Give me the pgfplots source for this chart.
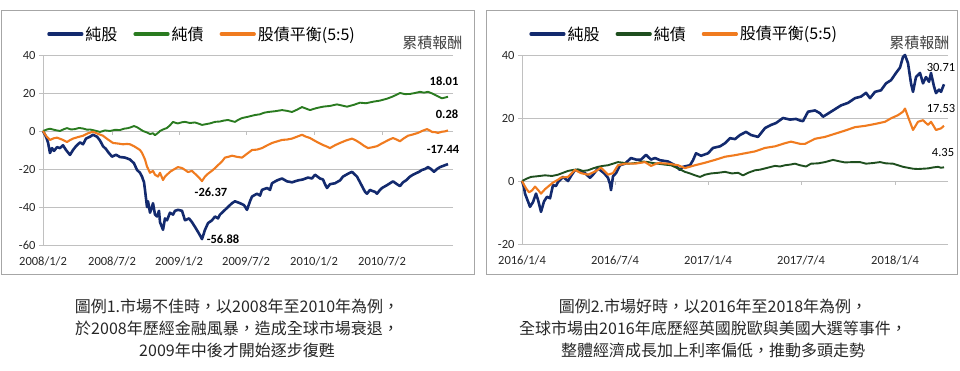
\documentclass[border=0pt]{standalone}
\usepackage{fontspec}
\setmainfont{Carlito}
\newfontfamily\cjk{Noto Sans CJK TC}
\usepackage{pgfplots}
\pgfplotsset{compat=1.18}
\definecolor{stk}{HTML}{132A6E}
\definecolor{bndL}{HTML}{2A7B20}
\definecolor{bndR}{HTML}{1F4F1F}
\definecolor{bal}{HTML}{F07B1F}
\definecolor{framec}{HTML}{A6A6A6}
\definecolor{gridc}{HTML}{C0C0C0}
\pgfplotsset{
 panel/.style={
  scale only axis, anchor=south west, clip=false,
  axis line style={draw=none},
  xtick style={draw=none},
  ytick style={draw=gridc, line width=0.9pt},
  tick align=outside, major tick length=4pt,
  ymajorgrids, grid style={gridc, line width=0.9pt},
  ticklabel style={font=\fontsize{12.5}{13}\selectfont, text=black!85},
  xticklabel style={yshift=-4pt},
  /pgf/number format/assume math mode=true,
  legend columns=3,
  legend cell align=left,
  legend style={draw=none, fill=none, anchor=west, font=\cjk\fontsize{16}{16}\selectfont,
    /tikz/every even column/.append style={column sep=14pt}, inner sep=0pt},
  legend image code/.code={\draw[#1, line width=3.2pt, line cap=round] (0pt,0pt) -- (33pt,0pt);},
 },
}
\tikzset{
 lab/.style={font=\bfseries\fontsize{12.5}{12.5}\selectfont, text=black},
 labn/.style={font=\fontsize{12.5}{12.5}\selectfont, text=black},
}
\begin{document}
\begin{tikzpicture}[x=1pt,y=1pt]
\useasboundingbox (0,0) rectangle (960,371);
\draw[framec, line width=1pt] (1.5,360.5) rectangle (474,96);
\draw[framec, line width=1pt] (486,360.5) rectangle (957,96);

% ---------------- left panel ----------------
\begin{axis}[panel, at={(43pt,126pt)}, width=406pt, height=190pt,
  xmin=43, xmax=449, ymin=-60, ymax=40, ytick={-60,-40,-20,0,20,40},
  xtick={43,112,179,246,314,382},
  xticklabels={2008/1/2,2008/7/2,2009/1/2,2009/7/2,2010/1/2,2010/7/2},
  legend style={at={(axis description cs:0.01,1.11)}}]
\draw[gridc, line width=0.9pt] (axis cs:43,-60) -- (axis cs:43,40);
\draw[gridc, line width=0.9pt] (axis cs:43,0) -- (axis cs:449,0);
\draw[gridc, line width=0.9pt] (axis cs:112,0) -- ++(0pt,-4pt);
\draw[gridc, line width=0.9pt] (axis cs:179,0) -- ++(0pt,-4pt);
\draw[gridc, line width=0.9pt] (axis cs:246,0) -- ++(0pt,-4pt);
\draw[gridc, line width=0.9pt] (axis cs:314,0) -- ++(0pt,-4pt);
\draw[gridc, line width=0.9pt] (axis cs:382,0) -- ++(0pt,-4pt);
\addplot[stk, line width=2.6pt, line join=round] coordinates {
(43,0)(46,-3)(48,-6)(50,-11.6)(52,-9)(54,-10.5)(57,-8.5)(60,-9)(63,-7.5)(66,-10)(70,-12.6)(73,-10)(76,-8)(80,-6)(83,-7)(86,-4)(90,-3)(93,-2)(97,-3)(100,-5)(103,-8)(106,-9.5)(108,-11)(112,-13.5)(116,-12.5)(120,-13.7)(125,-14)(130,-15)(134,-17)(137,-20.5)(140,-22)(142,-24)(144,-27)(145,-31)(147,-40)(148,-37)(150,-43)(152,-40)(153,-38)(155,-44)(157,-45)(159,-42)(160,-48)(163,-52)(165,-46)(167,-47)(170,-43)(173,-44)(175,-42)(178,-41.5)(182,-42)(185,-47)(189,-46)(192,-48)(195,-50.5)(199,-54)(202,-56.88)(205,-52)(208,-48.5)(212,-47)(215,-45)(218,-46)(220,-44)(224,-42)(228,-40)(232,-38)(235,-37)(240,-38)(244,-39)(247,-41.5)(250,-37)(252,-34.5)(257,-33)(260,-34)(262,-31)(267,-30)(270,-31)(272,-27.5)(277,-26)(282,-25)(287,-26.5)(292,-27)(298,-26)(303,-25.5)(308,-24.5)(312,-25)(315,-23)(320,-25)(323,-25.5)(325,-28)(327,-30)(330,-28)(335,-27.5)(340,-26)(343,-24)(348,-22.5)(352,-21.5)(355,-23)(357,-24)(360,-27)(362,-29)(365,-32)(367,-33)(370,-31)(372,-31.5)(375,-32)(377,-33)(380,-31)(382,-30)(387,-28.5)(393,-26.5)(397,-28)(400,-29)(403,-27)(406,-26)(410,-24)(413,-23)(419,-21.5)(422,-20.5)(425,-20)(428,-19)(431,-20)(434,-21.5)(437,-20)(440,-19)(445,-18)(448,-17.44)};
\addlegendentry{純股}
\addplot[bndL, line width=1.9pt, line join=round] coordinates {
(43,0)(47,0.8)(50,1.2)(55,0.5)(60,0)(64,1)(67,1.5)(71,0.8)(75,1)(79,1.6)(83,1.3)(87,0.7)(90,0.8)(95,0.2)(100,-0.5)(105,0.3)(110,0)(115,0.6)(120,0.5)(124,1.2)(128,1.5)(131,2)(134,2.6)(137,2)(140,1)(143,0)(147,-0.8)(150,-1.6)(153,-1.2)(155,-2.2)(158,-1)(160,0)(163,0.8)(167,1.6)(170,3)(173,4.8)(176,4.2)(178,4)(182,4.6)(185,4.8)(190,4.2)(195,4.5)(199,3.8)(202,3.2)(206,3.6)(210,4)(215,4.8)(220,5)(224,5.5)(228,5.8)(232,5.2)(235,4.8)(238,5.8)(242,6.8)(248,7.5)(255,8.4)(260,8.8)(264,9.6)(268,10)(275,10.4)(282,11)(287,10.6)(292,10)(297,11.2)(302,12.6)(306,11.8)(310,11)(316,12)(323,12.8)(330,13.2)(337,14)(342,13.4)(347,12.8)(354,13.8)(360,14.9)(366,14.6)(373,15.4)(380,16)(387,17)(393,18.2)(400,20)(405,19.4)(410,19.5)(415,20)(420,20.6)(424,20.2)(428,20.6)(432,19.8)(435,19)(438,18.2)(442,17.2)(445,17.6)(448,18.01)};
\addlegendentry{純債}
\addplot[bal, line width=2.1pt, line join=round] coordinates {
(43,0)(46,-2.5)(50,-4.7)(54,-3.8)(57,-3.5)(62,-4.5)(67,-5.8)(70,-4.8)(73,-4)(78,-3.2)(83,-2.5)(88,-1.2)(93,-0.4)(98,-1.5)(103,-2.5)(108,-4.5)(113,-6.3)(118,-6.6)(123,-7)(127,-6.8)(130,-7)(134,-8)(137,-9)(140,-10)(142,-11.5)(145,-15)(147,-18.7)(150,-22)(153,-21)(155,-23)(158,-24)(160,-22)(163,-25.8)(165,-24)(167,-23)(170,-21.5)(173,-20.5)(178,-19)(182,-19.5)(185,-20.5)(188,-21.6)(192,-21)(195,-22.5)(199,-24.5)(202,-26.37)(205,-24)(208,-22.5)(213,-20.5)(218,-18)(222,-16)(225,-14)(229,-13.5)(232,-13)(237,-13.6)(242,-14)(247,-12)(252,-10)(257,-9.8)(262,-9)(267,-7.6)(272,-6.3)(277,-5.5)(282,-4.7)(287,-4.5)(292,-4)(297,-3)(302,-2)(306,-3)(310,-3.7)(316,-5.5)(323,-7.4)(326,-8)(330,-9)(335,-7.5)(340,-6.3)(346,-5)(352,-4)(356,-5)(360,-6.3)(364,-7.8)(368,-9)(372,-8.6)(377,-8)(381,-6.8)(385,-5.7)(389,-4.6)(393,-3.7)(397,-4.6)(400,-5.4)(404,-3.8)(408,-2.5)(413,-1.8)(418,-1)(422,0)(427,1)(430,0.2)(432,-0.5)(435,-0.6)(438,-1)(442,-0.4)(445,-0.2)(448,0.28)};
\addlegendentry{股債平衡(5:5)}
\node[lab] at (axis cs:444,26.3) {18.01};
\node[lab] at (axis cs:447,8.9) {0.28};
\node[lab] at (axis cs:443,-9.5) {-17.44};
\node[lab] at (axis cs:211,-32) {-26.37};
\node[lab] at (axis cs:223,-56.8) {-56.88};
\end{axis}

% ---------------- right panel ----------------
\begin{axis}[panel, at={(522pt,127pt)}, width=422pt, height=189pt,
  xmin=522, xmax=944, ymin=-20, ymax=40, ytick={-20,0,20,40},
  xtick={522,615,708,801,895},
  xticklabels={2016/1/4,2016/7/4,2017/1/4,2017/7/4,2018/1/4},
  legend style={at={(axis description cs:0.017,1.111)}}]
\draw[gridc, line width=0.9pt] (axis cs:522,-20) -- (axis cs:522,40);
\draw[gridc, line width=0.9pt] (axis cs:522,0) -- (axis cs:944,0);
\draw[gridc, line width=0.9pt] (axis cs:615,0) -- ++(0pt,-4pt);
\draw[gridc, line width=0.9pt] (axis cs:708,0) -- ++(0pt,-4pt);
\draw[gridc, line width=0.9pt] (axis cs:801,0) -- ++(0pt,-4pt);
\draw[gridc, line width=0.9pt] (axis cs:895,0) -- ++(0pt,-4pt);
\addplot[stk, line width=2.6pt, line join=round] coordinates {
(522,0)(524,-2)(525,-4)(528,-6.5)(530,-8.2)(533,-6.7)(536,-4)(538,-6)(541,-9.8)(544,-6.5)(547,-5)(550,-5.5)(553,-1.3)(556,-1.6)(558,-0.3)(563,1.3)(568,0)(571,1.6)(575,3.5)(580,3)(585,2.5)(590,1)(593,2)(598,4)(604,2.5)(608,1)(610,-1)(611,-2.9)(613,1.5)(616,2.5)(620,5)(625,5.5)(631,7.3)(636,6.8)(641,6.8)(646,8.3)(651,6.8)(655,7.3)(660,6.6)(668,6.2)(675,5)(680,3.5)(683,4.5)(690,5)(693,6.6)(696,8.8)(701,8)(708,8.8)(713,10.5)(720,11)(725,12)(730,13.6)(735,13.3)(740,14.6)(746,15.6)(751,14.6)(758,14)(765,16.8)(771,17.8)(776,18.4)(783,20)(790,19.5)(796,19.7)(800,19.2)(803,19)(808,22)(815,22.4)(820,21.5)(823,20.4)(831,22)(841,24)(848,24.8)(855,26.3)(861,26.8)(866,28)(870,26.3)(875,28.3)(881,28.8)(886,31)(891,32)(896,34.3)(900,36)(903,39.4)(905,40)(908,37.4)(911,31)(913,28.3)(916,33)(920,34.3)(923,31)(926,33)(929,31.5)(931,34.3)(934,30)(936,27.9)(939,29)(941,28.3)(944,30.71)};
\addlegendentry{純股}
\addplot[bndR, line width=1.9pt, line join=round] coordinates {
(522,0)(527,0.8)(531,1.3)(537,1.5)(545,1.8)(552,1.6)(558,2)(563,2.6)(568,3.2)(573,3.5)(578,3.7)(583,3.2)(588,3.4)(593,4)(598,4.5)(603,4.8)(608,5)(613,5.5)(618,6)(623,5.8)(628,5.5)(633,5.6)(638,5.8)(643,6.2)(648,6)(653,5.7)(658,5.5)(665,5.2)(671,5)(678,4)(685,2.9)(690,2.4)(695,1.8)(700,1.3)(705,2)(711,2.4)(718,2.6)(725,2.9)(732,2.4)(738,2.6)(743,1.8)(748,2.6)(755,3.4)(760,3.6)(765,4)(770,4.4)(775,4.8)(780,4.6)(785,5)(790,5.2)(795,5.5)(800,5)(806,4.6)(811,5.5)(818,5.6)(825,6)(833,6.7)(840,6.2)(845,5.9)(853,6)(860,6)(866,5.5)(873,5.7)(880,6)(886,5.6)(893,5.5)(898,5)(903,4.5)(908,4.2)(913,3.9)(918,3.8)(923,3.9)(928,4)(933,4.3)(938,4.5)(941,4.2)(944,4.35)};
\addlegendentry{純債}
\addplot[bal, line width=2.1pt, line join=round] coordinates {
(522,0)(524,-1.2)(526,-2.3)(529,-3.6)(532,-3)(535,-1.8)(538,-2.8)(541,-4)(545,-2.6)(548,-1.8)(553,-0.5)(558,0.4)(561,1.1)(568,1.3)(575,3.5)(581,2.5)(588,2)(595,3)(601,4.2)(605,3)(608,2)(613,2.5)(618,5)(625,5.5)(635,5.5)(645,6)(651,4.8)(658,5.7)(668,5.5)(678,5)(685,4.1)(695,5)(705,5.8)(715,6.7)(725,7.7)(735,8.2)(745,8.8)(755,9.4)(765,10.5)(775,11)(785,12)(791,12.5)(800,11.8)(805,11.8)(815,13.4)(825,14)(835,15)(845,16)(855,17.1)(865,17.5)(875,18.1)(885,18.8)(891,19.9)(898,20.9)(903,22)(905,23)(908,20.4)(913,16.2)(918,18.8)(923,19.3)(928,17.8)(931,18.8)(936,16.2)(941,16.7)(944,17.53)};
\addlegendentry{股債平衡(5:5)}
\node[labn] at (axis cs:941,35.9) {30.71};
\node[labn] at (axis cs:941,22.9) {17.53};
\node[labn] at (axis cs:943,9.2) {4.35};
\end{axis}

\node[anchor=east, font=\cjk\fontsize{15}{15}\selectfont, text=black!75] at (466,328) {累積報酬};
\node[anchor=east, font=\cjk\fontsize{15}{15}\selectfont, text=black!75] at (953,328) {累積報酬};

\node[align=center, font=\cjk\fontsize{16}{22}\selectfont, text=black!85] at (237,43)
 {圖例1.市場不佳時，以2008年至2010年為例，\\於2008年歷經金融風暴，造成全球市場衰退，\\2009年中後才開始逐步復甦};
\node[align=center, font=\cjk\fontsize{16}{22}\selectfont, text=black!85] at (713,43)
 {圖例2.市場好時，以2016年至2018年為例，\\全球市場由2016年底歷經英國脫歐與美國大選等事件，\\整體經濟成長加上利率偏低，推動多頭走勢};
\end{tikzpicture}
\end{document}
